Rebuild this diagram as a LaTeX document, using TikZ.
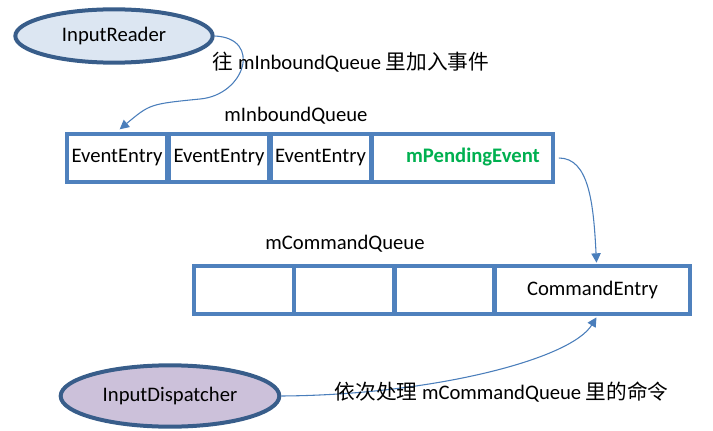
\documentclass[tikz,border=0pt]{standalone}
\usepackage{fontspec}
\setmainfont{Carlito}
\newfontfamily\cjk{Noto Sans CJK SC}
\usetikzlibrary{shapes.geometric,arrows.meta}

\definecolor{cellblue}{HTML}{4F81BD}
\definecolor{rimblue}{HTML}{385D8A}
\definecolor{readerfill}{HTML}{DCE6F2}
\definecolor{dispfill}{HTML}{CCC1DA}
\definecolor{pendgreen}{HTML}{00B050}
\definecolor{flowblue}{HTML}{4A7EBB}

\tikzset{
  cell/.style={draw=cellblue, line width=3pt, minimum height=36pt, inner sep=0pt},
  actor/.style={ellipse, draw=rimblue, line width=3pt, inner sep=0pt},
  flow/.style={draw=flowblue, line width=0.8pt, -{Triangle[length=7pt,width=7pt]}},
}

\begin{document}
\begin{tikzpicture}[x=0.75pt,y=-0.75pt,font=\fontsize{15.5}{18}\selectfont]
        \useasboundingbox (0,0) rectangle (713,431);

        \node[actor, fill=readerfill, minimum width=148pt, minimum height=40pt] (reader) at (114,36) {InputReader};
        \node[actor, fill=dispfill, minimum width=164pt, minimum height=46pt] (dispatcher) at (170,396) {InputDispatcher};

        % mInboundQueue
        \node[cell, minimum width=75pt] (e1) at (117,158) {EventEntry};
        \node[cell, minimum width=75pt] (e2) at (219,158) {EventEntry};
        \node[cell, minimum width=75pt] (e3) at (320.5,158) {EventEntry};
        \node[cell, minimum width=135.5pt] (pend) at (462.5,158) {};
        \node[text=pendgreen, font=\fontsize{15.5}{18}\selectfont\bfseries] (pendtext) at (473,157) {mPendingEvent};
        \node (inq) at (296,116) {mInboundQueue};

        % mCommandQueue
        \node[cell, minimum width=75pt] (c1) at (243.5,290) {};
        \node[cell, minimum width=75pt] (c2) at (344,290) {};
        \node[cell, minimum width=74.5pt] (c3) at (444.5,290) {};
        \node[cell, minimum width=146pt] (cmd) at (592.5,290) {CommandEntry};
        \node (cmdq) at (345,244) {mCommandQueue};

        \coordinate (bend) at (200,99);
        \draw[flow] (reader.east) .. controls +(48,2) and +(45,-4) .. (bend) .. controls +(-50,5) .. ([xshift=2pt,yshift=2pt]e1.north);
        \node[anchor=west] (addtext) at (208,62) {{\cjk 往} mInboundQueue {\cjk 里加入事件}};

        \draw[flow] ([xshift=3pt]pend.east) .. controls +(30,0) and +(-3,-60) .. ([xshift=3pt,yshift=1pt]cmd.north);

        \draw[flow] (dispatcher.east) .. controls (430,395) and (570,360) .. ([xshift=3pt,yshift=-1pt]cmd.south);
        \node[anchor=west] (proctext) at (330,392) {{\cjk 依次处理} mCommandQueue {\cjk 里的命令}};
\end{tikzpicture}
\end{document}
